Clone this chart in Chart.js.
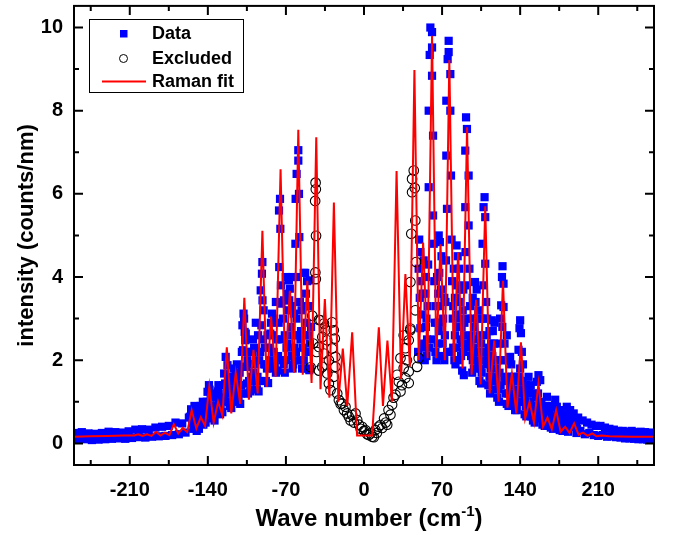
<!DOCTYPE html>
<html>
<head>
<meta charset="utf-8">
<script src="https://cdn.jsdelivr.net/npm/chart.js@4.4.1/dist/chart.umd.min.js"></script>
<style>
  html, body { margin: 0; padding: 0; background: #fff; }
  #chart { display: block; }
</style>
</head>
<body>
<canvas id="chart" width="674" height="535"></canvas>
<script>
// tick labels
const xTicks = [-210, -140, -70, 0, 70, 140, 210];
const yTicks = [0, 2, 4, 6, 8, 10];

// Raman fit (red line)
const fitX = [-260, -245, -230, -215, -206, -202.5, -198.5, -194.5, -190.5, -186.5, -182.5, -178.5, -174.5,
  -170.5, -166.5, -162.5, -158.5, -154.5, -150.3, -146.3, -142.5, -138.7, -134.8, -130.8, -127, -123,
  -119, -115, -111, -107.3, -103.2, -99.1, -95.3, -91.1, -87.2, -83.3, -79.2, -74.8, -70.7, -66.5,
  -62.8, -58.9, -54.9, -50.8, -47, -42.8, -39, -35.1, -31, -27, -23, -19, -15, -10.6, -6.2, 7.3,
  13.3, 17, 21, 25, 29.2, 33.2, 37.1, 41.1, 45.2, 49.1, 53, 57, 61, 64.8, 68.6, 72.5, 76.5, 80.5,
  84.4, 88.4, 92.4, 96.5, 100.5, 104.6, 108.7, 112.7, 116.8, 120.7, 124.6, 128.6, 132.6, 136.6,
  140.7, 144.5, 148.4, 152.4, 156.4, 160.5, 164.5, 168.4, 172.3, 176.3, 180.3, 184.3, 188.4, 192.4,
  196.4, 200.4, 204.5, 208.5, 212.5, 220, 240, 260];
const fitY = [0.16, 0.17, 0.18, 0.19, 0.19, 0.22, 0.18, 0.22, 0.18, 0.28, 0.19, 0.26, 0.2,
  0.46, 0.24, 0.37, 0.27, 0.8, 0.36, 0.63, 0.42, 1.37, 0.5, 1.0, 0.68, 2.31,
  0.72, 1.7, 0.95, 3.5, 1.05, 2.25, 1.2, 5.11, 1.36, 3.05, 1.6, 6.59, 1.68, 3.67,
  1.7, 7.54, 1.65, 3.91, 1.45, 7.36, 1.3, 3.47, 1.1, 5.79, 1.0, 2.28, 0.9, 2.67, 0.19, 0.19,
  2.79, 0.9, 2.47, 1.0, 6.55, 1.55, 4.07, 1.85, 8.98, 2.0, 4.83, 2.05, 9.8, 2.05, 4.79, 2.0, 9.22, 1.95,
  4.59, 1.8, 7.6, 1.65, 3.45, 1.42, 5.7, 1.2, 2.47, 1.0, 3.91, 0.86, 1.68, 0.72,
  2.43, 0.6, 1.0, 0.5, 1.44, 0.4, 0.62, 0.34, 0.8, 0.28, 0.4, 0.25, 0.48, 0.21,
  0.26, 0.18, 0.24, 0.17, 0.19, 0.17, 0.16, 0.16];

// measured points [wave number, intensity], negative side
const dataLeft = [
  [-259,0.25],[-256,0.09],[-253,0.27],[-250,0.10],[-247,0.24],[-244,0.08],[-241,0.23],[-238,0.09],
  [-235,0.25],[-232,0.10],[-229,0.28],[-226,0.11],[-223,0.27],[-220,0.12],[-217,0.26],[-214,0.11],
  [-211,0.29],[-208,0.13],[-205,0.33],[-202,0.15],[-199,0.34],[-196,0.14],[-193,0.33],[-190,0.16],
  [-187,0.38],[-184,0.17],[-181,0.40],[-178,0.18],[-175,0.42],[-172,0.20],[-169,0.50],[-166,0.22],
  [-163,0.48],[-160,0.26],[-157,0.62],
  [-156,0.64],[-155,0.82],[-154,0.5],[-153,0.35],[-152,0.9],
  [-151,0.62],[-150,0.3],[-149,0.55],[-148,0.35],[-150.5,0.8],[-148.5,0.6],
  [-147,0.7],[-146,0.5],[-145,0.8],[-144,0.45],[-146.5,0.9],[-144.5,1.0],
  [-143,0.75],[-142,0.5],[-143.5,0.55],[-141.5,0.7],
  [-141,1.0],[-140.3,1.24],[-139,1.4],[-138.5,1.29],[-137.5,1.1],[-137,0.85],[-136,0.6],[-139.5,0.9],
  [-135,0.9],[-134,0.55],[-133,0.8],[-136.5,1.15],[-135.5,0.7],[-133.5,1.2],
  [-132,1.1],[-131,1.25],[-130,0.95],[-129,0.7],[-132.5,0.8],[-130.5,1.4],[-129.5,1.1],
  [-128,1.05],[-127,0.75],[-126,1.0],[-128.5,0.8],[-126.5,1.4],[-125.5,1.1],
  [-125.4,1.68],[-124,2.08],[-122.4,1.88],[-124.5,1.44],[-122,1.3],[-121,1.0],[-123.5,1.2],[-121.5,1.6],
  [-120,1.2],[-119,0.85],[-118,1.3],[-120.5,0.9],[-119.5,1.5],[-118.5,1.0],
  [-116,1.6],[-115,1.68],[-114.5,1.36],[-113,1.1],[-112,1.4],[-117,1.8],[-116.5,1.2],[-114,1.9],
  [-111,0.95],[-110.5,1.2],[-113.5,1.6],[-112.5,1.0],[-111.5,1.7],[-110,1.4],[-109.5,2.2],
  [-109,2.84],[-108,3.12],[-107.5,3.0],[-107,2.68],[-106,2.64],[-108.5,2.24],[-106.5,2.48],
  [-105.5,1.84],[-109.5,1.84],[-105,1.44],[-106,1.2],[-104.5,2.0],
  [-104,1.2],[-103,1.5],[-102,1.25],[-103.5,1.9],[-102.5,2.2],[-101.5,1.3],
  [-100.5,2.2],[-99.5,2.5],[-98.5,2.3],[-97.5,1.9],[-99,1.7],[-101,1.6],[-97,2.9],[-95,2.6],[-97,1.5],
  [-96,1.3],[-95.5,1.6],[-94.5,1.25],[-94,2.0],[-93.5,1.5],
  [-91.1,4.36],[-91.5,4.08],[-92.6,3.68],[-91,3.44],[-90,3.2],[-92,2.84],[-90.5,2.5],[-93,2.2],[-89.5,1.9],
  [-89,2.3],[-88.5,1.9],
  [-88,1.5],[-87,1.8],[-86,1.45],[-86.5,2.6],[-85.5,1.9],[-85,2.3],
  [-84,2.64],[-83.5,2.9],[-82.5,3.12],[-82,2.6],[-81,2.2],[-84.5,2.0],[-79,3.4],[-80.5,3.0],[-81.5,1.8],
  [-80,1.9],[-79,1.7],[-78,2.07],[-78.5,2.5],[-77.5,1.75],
  [-75.3,5.88],[-76.2,5.6],[-75,5.16],[-76,4.24],[-74,3.36],[-76.5,2.9],[-73.5,2.5],[-77,2.1],[-74.5,3.8],
  [-73,2.0],[-72.5,3.0],
  [-72,1.9],[-71,1.7],[-70,2.0],[-70.2,4.0],[-71.7,3.44],[-71,2.6],[-69.5,2.3],[-69,3.6],
  [-68,3.2],[-67.3,3.92],[-66.5,3.72],[-67,3.44],[-65.5,2.8],[-68.5,2.4],[-65,2.1],[-64.2,4.0],
  [-64,1.8],[-64.5,3.3],
  [-63.5,1.9],[-62.5,2.3],[-62.8,3.12],[-63.5,2.6],[-62,2.0],[-60,2.6],
  [-58.9,7.05],[-58.9,6.8],[-60.4,6.48],[-58.3,6.0],[-61.3,5.88],[-58,4.96],[-61.5,4.8],[-59.5,4.0],
  [-57.5,3.4],[-60.5,3.0],[-57,2.5],[-61,2.2],
  [-55.5,1.8],[-55,2.3],[-54,2.0],[-54,4.1],[-56,3.2],[-56.5,2.0],[-56.5,2.7],[-53.5,2.6],[-53,3.3],
  [-53.5,1.8],
  [-52.7,4.1],[-51,3.9],[-52,3.6],[-50.5,3.3],[-51.5,2.9],[-49.5,2.6],[-50,2.2],[-48.3,1.8],[-49,1.76],
  [-48.3,3.92],[-47.5,2.8],[-49,3.3],[-48.5,2.4]
];

// measured points, positive side
const dataRight = [
  [48.5,2.2],[49.5,4.9],[50.5,4.6],[49,4.2],[51,3.9],[50,3.5],[52,3.1],[50.5,2.77],[53,2.4],[51.5,2.05],
  [54,2.3],[53.5,4.4],[55,3.6],[55.5,2.8],[52.5,3.6],[54.5,2.0],[55.5,4.0],[56,3.0],[58.5,2.3],
  [59.5,10.0],[61,9.89],[61,9.52],[58.9,9.34],[61,8.84],[58,8.0],[61.9,7.4],[58,6.16],[61.9,5.48],
  [62.5,4.8],[57.5,4.3],[63,3.9],[57,3.3],[63.5,2.9],[56.5,2.5],[64,2.2],[62.5,2.5],[64.5,3.3],
  [56,2.1],[65,2.0],[66,2.4],[65.5,4.0],[66,2.9],[66.5,3.6],
  [67,5.0],[68,4.84],[69.5,4.5],[67.5,4.1],[69,3.7],[68.5,3.3],[70,2.9],[67,2.7],[70.5,2.4],[71.5,2.1],
  [72,3.5],[71,4.4],[69.5,2.1],[71,3.0],[72,2.0],
  [75.9,9.68],[75.9,9.41],[75,9.24],[77.4,8.88],[73.8,8.24],[77.4,8.0],[73.8,6.92],[78,6.44],[74.4,5.64],
  [78.5,4.9],[73.5,4.4],[79,3.9],[73,3.4],[79.5,3.0],[72.5,2.6],[80,2.3],[74.5,2.2],[78.5,2.2],
  [81,2.0],[82,1.9],[81.5,3.5],[80.5,4.2],[80,3.3],[81.5,2.6],[82.5,3.1],[82.5,2.3],
  [83,4.76],[84,4.5],[85.5,4.2],[83.5,3.8],[85,3.4],[86,3.0],[83,2.8],[86.5,2.5],[87,2.1],
  [84.5,2.0],[86,3.7],[87.5,2.8],
  [88,1.75],[89,2.2],[89.5,1.64],[88.5,3.2],[88,2.4],[89,3.7],
  [91.5,7.84],[92.3,7.56],[90.8,7.04],[93.8,6.44],[90.8,5.68],[93.8,5.24],[91,4.6],[94.5,4.2],[90.5,3.8],
  [95,3.3],[90,2.9],[95.5,2.5],[89.5,2.6],[96,2.1],[92,2.3],[93,3.0],[94,2.4],
  [97,1.7],[97.5,2.0],[96.5,3.0],[96.5,2.6],[97.5,3.5],[98,2.3],[98.5,1.8],
  [99.5,3.88],[101,3.7],[100,3.4],[101.5,3.0],[99,2.8],[102,2.5],[100.5,2.2],[102.5,1.9],[99.5,2.0],
  [102.5,3.2],[103,2.2],
  [103.5,1.5],[104.5,1.8],[105,1.44],[104,2.6],[104.5,3.0],[105,2.4],
  [108.1,5.92],[107.2,5.68],[108.7,5.44],[106.3,4.8],[108.7,4.32],[107,3.8],[109.5,3.4],[106.5,3.0],
  [110,2.6],[106,2.2],[110.5,1.9],[105.5,1.7],[107.5,2.0],[109,2.2],[110.5,3.0],
  [111.5,1.4],[112.5,1.6],[113,1.2],[112,2.3],[111,2.0],[112.5,2.7],[113.5,1.8],[114,2.4],
  [114.6,2.96],[115.5,2.7],[116.5,2.4],[115,2.1],[117.5,1.8],[116,1.5],[118,1.3],[117,2.9],[118.5,2.0],
  [119.5,1.1],[120.5,1.3],[121,1.0],[120,2.0],[119,1.6],[121.5,1.7],[121.5,2.4],[122,3.0],
  [124.2,4.26],[123.7,4.0],[125.1,3.84],[123,3.32],[125.1,3.28],[124,2.8],[126,2.4],[123,2.0],
  [126.5,1.6],[122.5,1.4],[127,1.2],[126.5,2.0],[127.5,1.5],[128,2.6],
  [128,0.95],[129,1.2],[129.5,0.9],[129.5,1.6],[130,2.0],[130.5,1.2],
  [131,2.08],[132,1.9],[133,1.6],[131.5,1.4],[134,1.2],[132.5,1.0],[134.5,1.6],[135,1.1],
  [135.5,0.8],[136.5,1.0],[137,0.8],[136,1.5],[137.5,1.3],[138,1.6],
  [140,2.96],[139.4,2.77],[140.7,2.65],[138.5,2.25],[141.5,2.2],[140,1.8],[142,1.5],[139,1.2],
  [142.5,1.0],[138,1.0],[142.5,1.9],[143,1.3],
  [144,0.7],[145,0.9],[145.5,0.65],[144,1.1],[145,1.4],[146,1.0],[146.5,1.2],
  [147.5,1.6],[148.5,1.3],[149,1.0],[147.5,0.8],[150,0.65],[149.5,1.4],
  [151.5,0.55],[152.5,0.8],[153,0.5],[151,0.9],[152,1.2],[153.5,0.8],[154,1.1],
  [156.4,1.64],[155,1.48],[158,1.52],[156,1.2],[157,0.9],[155.5,0.7],[158.5,0.6],[159,1.0],
  [160,0.45],[161,0.7],[162,0.42],[160,0.7],[162.5,0.9],[163,0.55],
  [164,1.12],[165,0.9],[163.5,0.7],[166,0.5],[166.5,0.8],[167,0.55],
  [167.5,0.38],[168.5,0.65],[169.5,0.35],[169,0.9],[170,0.55],
  [171.4,1.05],[172.9,0.88],[172,0.6],[174,0.4],[173.5,0.75],[175,0.5],
  [175.5,0.32],[176.5,0.6],[178,0.3],[176,0.8],[177.5,0.45],
  [179.5,0.7],[181.8,0.88],[181,0.5],[183,0.28],[179,0.5],[180.5,0.65],[182,0.45],[183.5,0.6],
  [184.8,0.8],[186.5,0.55],[188,0.72],[189,0.4],[190.5,0.25],[185.5,0.4],[187,0.65],[188.5,0.55],
  [190,0.45],[191,0.35],
  [192,0.62],[194,0.3],[196,0.55],[198,0.22],[200,0.5],[202,0.25],[204,0.45],[206,0.2],[208,0.42],
  [210,0.18],[212,0.42],[214,0.2],[216,0.38],[218,0.16],[220,0.35],[222,0.17],[224,0.33],[226,0.15],
  [228,0.3],[230,0.14],[232,0.3],[234,0.12],[236,0.28],[238,0.12],[240,0.3],[242,0.11],[244,0.27],
  [246,0.1],[248,0.28],[250,0.1],[252,0.27],[254,0.09],[256,0.26],[258,0.1],[260,0.24]
];

// points left out of the fit (open circles)
const excluded = [
  [-47.9,1.83],[-46.4,3.07],[-45.5,2.4],[-43.4,6.27],[-43.2,6.11],[-43.8,5.83],[-43.0,4.99],[-43.6,4.11],
  [-43.2,3.95],[-42.5,2.2],[-40.4,2.97],[-40.4,2.32],[-40.4,1.75],[-38.9,2.96],[-37.4,2.56],[-37.4,1.84],
  [-35.9,2.88],[-35.9,2.16],[-34.4,2.72],[-33,2.48],[-33,1.68],[-31.5,2.0],[-31.5,1.44],[-30,1.28],
  [-28.6,2.91],[-28.6,2.28],[-27.1,2.72],[-27.1,1.6],[-26.2,2.52],[-25.6,2.08],[-25.6,1.84],[-24,1.2],
  [-22.5,1.04],[-21,0.95],[-19.6,0.96],[-18,0.8],[-16.6,0.88],[-15.1,0.72],[-13.6,0.64],[-12,0.55],
  [-10.6,0.68],[-9,0.5],[-7.6,0.72],[-6.1,0.56],[-4.5,0.45],[-3,0.35],[-1.7,0.4],[0,0.3],[1.3,0.32],
  [2.8,0.22],[4.3,0.2],[5.8,0.24],[7.3,0.16],[8.8,0.15],[10.2,0.32],[11.5,0.25],[13,0.4],[14.7,0.44],
  [16.3,0.37],[18,0.6],[19.5,0.5],[20.8,0.45],[22,0.8],[23.7,0.69],[25.2,0.93],[26.5,1.1],[28.2,1.17],
  [29.7,1.65],[31.2,1.48],[32.7,1.25],[32.7,2.05],[34,1.4],[35.6,1.81],[35.6,2.6],[37.1,1.57],[37.1,2.29],
  [38.5,2.0],[40.1,1.73],[40.1,2.48],[40.1,1.45],[41.6,2.76],[41.6,3.88],[41.6,2.72],[42.4,5.04],
  [43.1,6.04],[43.1,6.36],[44.6,6.56],[45.5,6.14],[46,5.36],[46.7,4.36],[46,3.2],[47.6,1.84],[49.1,2.05]
];

const FONT = '"Liberation Sans", Arial, sans-serif';
const toPts = arr => arr.map(p => ({ x: p[0], y: p[1] }));

// frame with inward ticks, legend box and x title with superscript
const framePlugin = {
  id: 'frame',
  afterDatasetsDraw(chart) {
    const { ctx, chartArea: a, scales: { x, y } } = chart;
    ctx.save();
    ctx.strokeStyle = '#000';
    ctx.lineWidth = 2;
    ctx.strokeRect(a.left, a.top, a.right - a.left, a.bottom - a.top);
    ctx.beginPath();
    for (let v = -245; v <= 245; v += 35) {
      const px = x.getPixelForValue(v);
      const len = v % 70 === 0 ? 9 : 5;
      ctx.moveTo(px, a.bottom); ctx.lineTo(px, a.bottom - len);
      ctx.moveTo(px, a.top); ctx.lineTo(px, a.top + len);
    }
    for (let v = 0; v <= 10; v++) {
      const py = y.getPixelForValue(v);
      const len = v % 2 === 0 ? 9 : 5;
      ctx.moveTo(a.left, py); ctx.lineTo(a.left + len, py);
      ctx.moveTo(a.right, py); ctx.lineTo(a.right - len, py);
    }
    ctx.stroke();

    // legend
    ctx.fillStyle = '#fff';
    ctx.fillRect(89.5, 19.5, 154, 73);
    ctx.lineWidth = 1;
    ctx.strokeStyle = '#000';
    ctx.strokeRect(89.5, 19.5, 154, 73);
    ctx.fillStyle = '#0000ff';
    ctx.fillRect(120, 30, 7.5, 7.5);
    ctx.beginPath();
    ctx.arc(123.5, 58.5, 4, 0, Math.PI * 2);
    ctx.stroke();
    ctx.strokeStyle = '#ff0000';
    ctx.lineWidth = 2;
    ctx.beginPath();
    ctx.moveTo(102, 81.5); ctx.lineTo(146, 81.5);
    ctx.stroke();
    ctx.fillStyle = '#000';
    ctx.font = 'bold 18px ' + FONT;
    ctx.textBaseline = 'middle';
    ctx.textAlign = 'left';
    ctx.fillText('Data', 152, 34.5);
    ctx.fillText('Excluded', 152, 59);
    ctx.fillText('Raman fit', 152, 82);

    // x axis title
    const t1 = 'Wave number (cm', sup = '-1', t2 = ')';
    const big = 'bold 24px ' + FONT, small = 'bold 15px ' + FONT;
    ctx.textBaseline = 'alphabetic';
    ctx.font = big;
    const w1 = ctx.measureText(t1).width, w2 = ctx.measureText(t2).width;
    ctx.font = small;
    const ws = ctx.measureText(sup).width;
    let sx = 369 - (w1 + ws + w2) / 2;
    const base = 526;
    ctx.font = big;
    ctx.fillText(t1, sx, base);
    sx += w1;
    ctx.font = small;
    ctx.fillText(sup, sx, base - 10);
    sx += ws;
    ctx.font = big;
    ctx.fillText(t2, sx, base);
    ctx.restore();
  }
};

const tickFont = { family: FONT, weight: 'bold', size: 20 };

new Chart(document.getElementById('chart'), {
  type: 'scatter',
  data: {
    datasets: [
      {
        label: 'Data',
        data: toPts(dataLeft.concat(dataRight)),
        pointStyle: 'rect',
        pointRadius: 5.8,
        backgroundColor: '#0000ff',
        borderWidth: 0,
        clip: 0,
        order: 3
      },
      {
        label: 'Excluded',
        data: toPts(excluded),
        pointStyle: 'circle',
        pointRadius: 4.8,
        backgroundColor: 'rgba(0,0,0,0)',
        borderColor: '#000',
        borderWidth: 1.1,
        clip: 0,
        order: 2
      },
      {
        label: 'Raman fit',
        data: fitX.map((v, i) => ({ x: v, y: fitY[i] })),
        showLine: true,
        pointRadius: 0,
        borderColor: '#ff0000',
        borderWidth: 2,
        tension: 0,
        clip: 0,
        order: 1
      }
    ]
  },
  options: {
    responsive: false,
    devicePixelRatio: 1,
    animation: false,
    events: [],
    layout: { padding: { top: 5, right: 20, bottom: 0, left: 0 } },
    plugins: {
      legend: { display: false },
      tooltip: { enabled: false }
    },
    scales: {
      x: {
        type: 'linear',
        position: 'bottom',
        min: -260,
        max: 260,
        grid: { display: false, drawTicks: false },
        border: { display: false },
        afterBuildTicks: s => { s.ticks = xTicks.map(v => ({ value: v })); },
        afterFit: s => { s.height = 70; s.paddingLeft = 0; s.paddingRight = 0; },
        ticks: { padding: 13, color: '#000', font: tickFont, autoSkip: false, maxRotation: 0 }
      },
      y: {
        type: 'linear',
        min: -0.52,
        max: 10.52,
        grid: { display: false, drawTicks: false },
        border: { display: false },
        afterBuildTicks: s => { s.ticks = yTicks.map(v => ({ value: v })); },
        afterFit: s => { s.width = 74; s.paddingTop = 0; s.paddingBottom = 0; },
        ticks: { padding: 11, color: '#000', font: tickFont, autoSkip: false },
        title: {
          display: true,
          text: 'intensity (counts/nm)',
          color: '#000',
          font: { family: FONT, weight: 'bold', size: 22 },
          padding: { top: 14, bottom: 0 }
        }
      }
    }
  },
  plugins: [framePlugin]
});
</script>
</body>
</html>
